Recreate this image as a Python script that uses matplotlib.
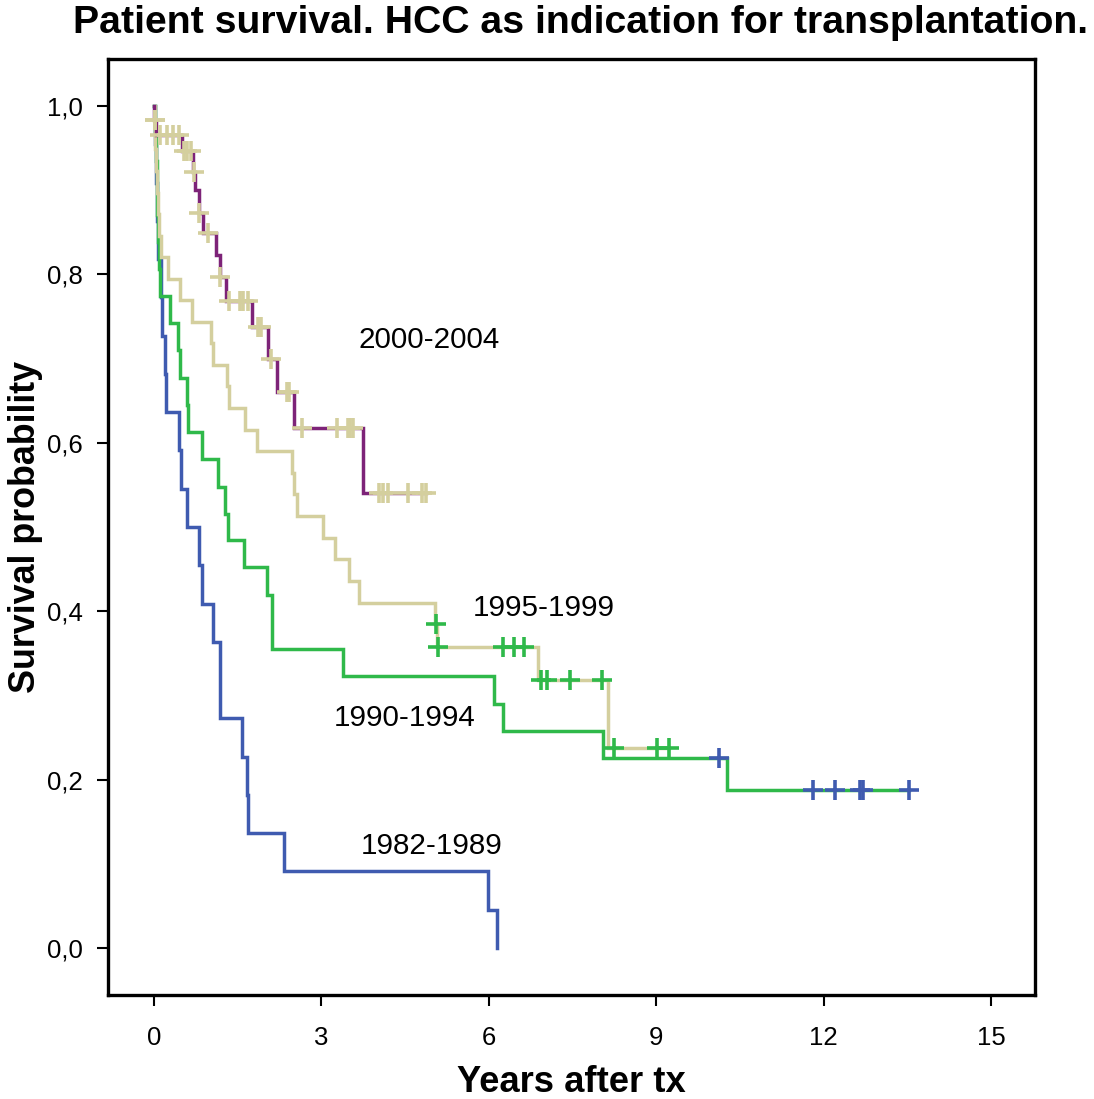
import numpy as np
import matplotlib
matplotlib.use("Agg")
import matplotlib.pyplot as plt

plt.rcParams['font.family'] = ['Liberation Sans', 'DejaVu Sans']

# ---- data ----
# 1982-1989
t_8289 = [0.01, 0.03, 0.06, 0.08, 0.12, 0.15, 0.20, 0.22, 0.45, 0.49, 0.59, 0.81, 0.86,
          1.06, 1.18, 1.58, 1.67, 1.69, 2.33, 5.99, 6.15]
s_8289 = [0.955, 0.909, 0.864, 0.818, 0.773, 0.727, 0.682, 0.636, 0.591, 0.545, 0.500,
          0.455, 0.409, 0.364, 0.273, 0.227, 0.182, 0.136, 0.091, 0.045, 0.0]
c_8289 = []
end_8289 = 6.15

# 1990-1994
t_9094 = [0.02, 0.04, 0.05, 0.06, 0.08, 0.09, 0.11, 0.29, 0.43, 0.47, 0.59, 0.61, 0.86,
          1.15, 1.27, 1.32, 1.62, 2.03, 2.11, 3.39, 6.09, 6.25, 8.05, 10.27]
s_9094 = [0.968, 0.935, 0.903, 0.871, 0.839, 0.806, 0.774, 0.742, 0.710, 0.677, 0.645,
          0.613, 0.581, 0.548, 0.516, 0.484, 0.452, 0.419, 0.355, 0.323, 0.290, 0.258,
          0.226, 0.188]
c_9094 = [10.12, 11.81, 12.20, 12.65, 12.71, 13.53]
end_9094 = 13.53

# 1995-1999
t_9599 = [0.01, 0.02, 0.04, 0.05, 0.07, 0.09, 0.12, 0.25, 0.47, 0.68, 1.02, 1.06, 1.31,
          1.35, 1.63, 1.85, 2.47, 2.51, 2.56, 3.03, 3.24, 3.49, 3.67, 5.04, 5.07, 6.88,
          8.14]
s_9599 = [0.974, 0.949, 0.923, 0.897, 0.872, 0.846, 0.821, 0.795, 0.769, 0.744, 0.718,
          0.692, 0.667, 0.641, 0.615, 0.590, 0.564, 0.539, 0.513, 0.487, 0.462, 0.436,
          0.410, 0.385, 0.357, 0.318, 0.238]
c_9599 = [5.055, 5.09, 6.26, 6.45, 6.63, 6.94, 7.05, 7.45, 8.03, 8.24, 9.02, 9.23]
end_9599 = 9.23

# 2000-2004
t_0004 = [0.005, 0.03, 0.50, 0.70, 0.74, 0.80, 0.88, 1.11, 1.18, 1.29, 1.76, 2.04, 2.20,
          2.51, 3.75]
s_0004 = [0.983, 0.966, 0.946, 0.922, 0.900, 0.873, 0.849, 0.823, 0.797, 0.768, 0.738,
          0.700, 0.660, 0.617, 0.540]
c_0004 = [0.01, 0.02, 0.11, 0.23, 0.34, 0.45, 0.53, 0.60, 0.66, 0.72, 0.81, 0.97, 1.18,
          1.34, 1.54, 1.60, 1.68, 1.86, 1.92, 2.10, 2.38, 2.42, 2.65, 3.28, 3.48, 3.51,
          3.57, 4.03, 4.10, 4.19, 4.55, 4.80, 4.87]
end_0004 = 4.87

labels = ["1982-1989", "1990-1994", "1995-1999", "2000-2004"]
label_pos = [(3.71, 0.121), (3.23, 0.273), (5.72, 0.404), (3.66, 0.722)]

xticks = [0, 3, 6, 9, 12, 15]
yticks = [0.0, 0.2, 0.4, 0.6, 0.8, 1.0]
ytick_labels = ["0,0", "0,2", "0,4", "0,6", "0,8", "1,0"]

# line colours and censor-marker colours (as in the reference)
line_colors = ["#3f5bb0", "#2fb94a", "#d4cf9e", "#7d2378"]
mark_colors = [None, "#3f5bb0", "#2fb94a", "#d4cf9e"]

series = [(t_8289, s_8289, c_8289, end_8289),
          (t_9094, s_9094, c_9094, end_9094),
          (t_9599, s_9599, c_9599, end_9599),
          (t_0004, s_0004, c_0004, end_0004)]

fig = plt.figure(figsize=(10.94, 10.99), dpi=100)
ax = fig.add_axes([108/1094, 1 - 995/1099, (1035-108)/1094, (995-59)/1099])


def surv_at(times, survs, x):
    idx = np.searchsorted(np.asarray(times), x, side='right') - 1
    return 1.0 if idx < 0 else survs[idx]


for i, (t, s, c, end) in enumerate(series):
    tt = [0.0] + list(t) + [end]
    ss = [1.0] + list(s) + [s[-1]]
    if end <= t[-1]:
        tt = tt[:-1]
        ss = ss[:-1]
    ax.step(tt, ss, where='post', color=line_colors[i], lw=2.5, zorder=2 + i,
            solid_joinstyle='miter')
    if c:
        cy = [surv_at(t, s, x) for x in c]
        ax.plot(c, cy, linestyle='none', marker='+', markersize=14, mew=2.6,
                color=mark_colors[i], zorder=2.5 + i)

for lab, (x, y) in zip(labels, label_pos):
    ax.text(x, y, lab, fontsize=21.3, ha='left', va='center', color='black')

ax.set_xlim(-0.824, 15.79)
ax.set_ylim(-0.0558, 1.0558)
ax.set_xticks(xticks)
ax.set_xticklabels([str(v) for v in xticks])
ax.set_yticks(yticks)
ax.set_yticklabels(ytick_labels)
ax.tick_params(axis='both', direction='out', length=8, width=1.5, labelsize=18.5)
ax.tick_params(axis='x', pad=14)
ax.tick_params(axis='y', pad=10)
for sp in ax.spines.values():
    sp.set_linewidth(2.4)

ax.set_xlabel("Years after tx", fontsize=26.2, fontweight='bold', labelpad=11)
ax.set_ylabel("Survival probability", fontsize=25.8, fontweight='bold', labelpad=3)
fig.text(0.531, 0.979, "Patient survival. HCC as indication for transplantation.",
         ha='center', va='center', fontsize=28.3, fontweight='bold')

fig.savefig("out.png", dpi=100)
